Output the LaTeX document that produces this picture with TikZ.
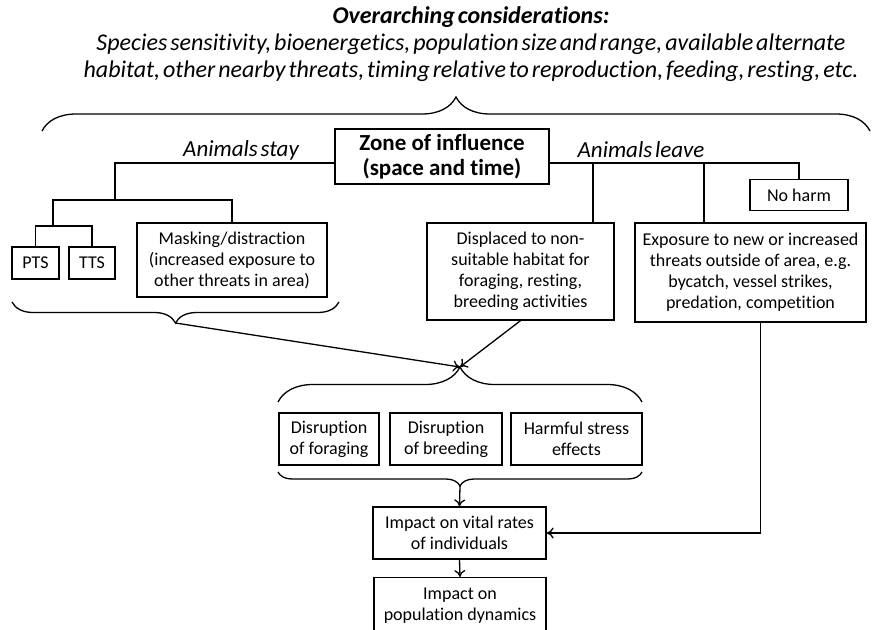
\documentclass[tikz,border=0pt]{standalone}
\usepackage{fontspec}
\setmainfont{Carlito}[Ligatures=NoCommon]
\usetikzlibrary{arrows.meta,decorations.pathreplacing}
\newcommand\tightspaces{\spaceskip=0.12em plus 0.05em\relax}

\begin{document}
\begin{tikzpicture}[x=1pt, y=1pt, line width=1.3pt, >={To[length=7pt,width=11pt]},
		box/.style={draw, rectangle, align=center, inner sep=0pt, font=\fontsize{18}{21}\selectfont},
		branch/.style={font=\fontsize{23}{27}\selectfont\itshape\tightspaces},
		curly/.style={decorate, decoration={brace, amplitude=#1}}]
		\useasboundingbox (0,0) rectangle (880,-629);
		\clip (0,0) rectangle (880,-629);

		\node[branch, align=center, font=\fontsize{24}{27}\selectfont\itshape\tightspaces] (considerations) at (471,-44) {\textbf{Overarching considerations:}\\Species sensitivity, bioenergetics, population size and range, available alternate\\habitat, other nearby threats, timing relative to reproduction, feeding, resting, etc.};

		\node[box, font=\fontsize{23}{25}\selectfont\bfseries, minimum width=214, minimum height=55] (zone) at (442,-156.5) {Zone of influence\\(space and time)};
		\node[branch] (stay) at (241,-150) {Animals stay};
		\node[branch] (leave) at (641,-150) {Animals leave};

		\node[box, minimum width=47, minimum height=32] (pts) at (35.5,-263) {PTS};
		\node[box, minimum width=46, minimum height=32] (tts) at (92,-263) {TTS};
		\node[box, minimum width=190, minimum height=74] (masking) at (232,-260) {Masking/distraction\\(increased exposure to\\other threats in area)};

		\node[box, minimum width=187, minimum height=97] (displaced) at (520.5,-271.5) {Displaced to non-\\suitable habitat for\\foraging, resting,\\breeding activities};
		\node[box, minimum width=231, minimum height=99] (exposure) at (750.5,-272.5) {Exposure to new or increased\\threats outside of area, e.g.\\bycatch, vessel strikes,\\predation, competition};
		\node[box, minimum width=98, minimum height=31] (noharm) at (799,-195) {No harm};

		\node[box, minimum width=100, minimum height=52] (foraging) at (329,-439) {Disruption\\of foraging};
		\node[box, minimum width=112, minimum height=52] (breeding) at (446,-439) {Disruption\\of breeding};
		\node[box, minimum width=131, minimum height=52] (stress) at (576.5,-439) {Harmful stress\\effects};

		\node[box, minimum width=173, minimum height=52] (vital) at (459.5,-533) {Impact on vital rates\\of individuals};
		\node[box, minimum width=172, minimum height=56, anchor=north] (population) at (460,-577) {Impact on\\population dynamics};

		% braces
		\draw[curly=34] (42,-131) -- (870,-131);
		\draw[curly=21] (339,-302) -- (12,-302);
		\draw[curly=35] (278,-402) -- (642,-402);
		\draw[curly=14] (642,-472) -- (278,-472);

		\coordinate (stayTip) at (175.5,-323);
		\coordinate (effectsTop) at (460,-367);
		\coordinate (effectsBottom) at (460,-486);

		% animals stay
		\coordinate (stayFork) at (115,-200);
		\coordinate (injuryFork) at (53,-226);
		\draw ([yshift=-6.5pt]zone.west) -| (stayFork);
		\draw (injuryFork) |- (masking.north |- stayFork) -- (masking.north);
		\draw (pts.north) |- (injuryFork) -| (tts.north);

		% animals leave
		\coordinate (displacedFork) at (593,-163);
		\coordinate (exposureFork) at (704,-163);
		\draw ([yshift=-6.5pt]zone.east) -| (noharm.north);
		\draw (displacedFork) -- (displacedFork |- displaced.north);
		\draw (exposureFork) -- (exposureFork |- exposure.north);

		\draw[->] (stayTip) -- (effectsTop);
		\draw[->] (displaced.south) -- (effectsTop);
		\draw[->] (effectsBottom) -- (vital.north);
		\draw[->] (vital.south) -- (population.north);
		\draw[->] ([xshift=10pt]exposure.south) |- (vital.east);
	\end{tikzpicture}
\end{document}
